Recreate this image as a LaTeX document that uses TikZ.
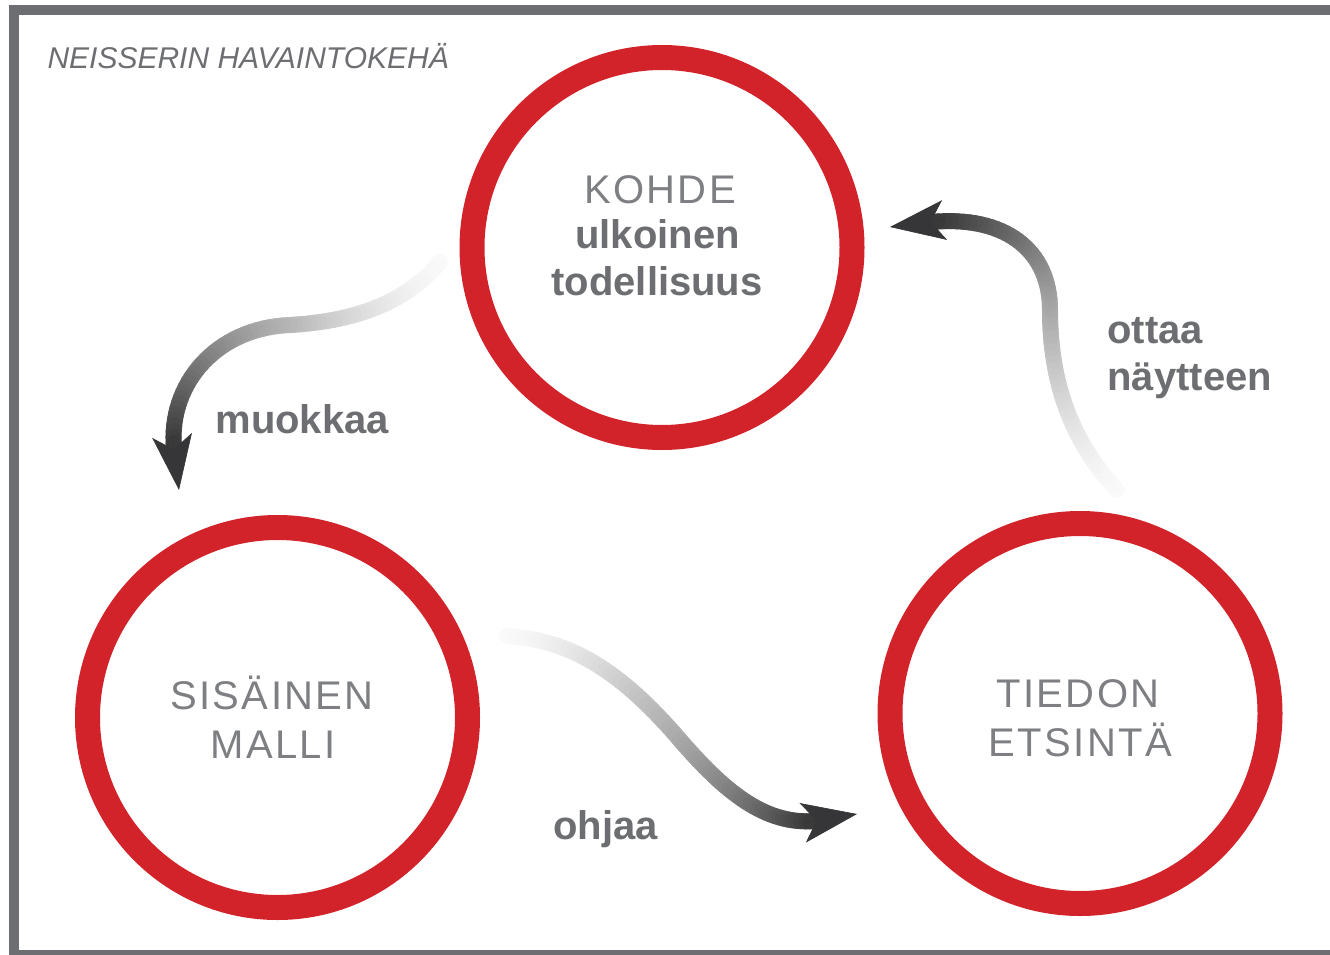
\documentclass[tikz,border=0pt]{standalone}
\usepackage{fontspec}
\setmainfont{Liberation Sans}
\newfontfamily\spacedfont[LetterSpace=6]{Liberation Sans}
\usetikzlibrary{calc,arrows.meta}
\definecolor{ringred}{HTML}{D2232A}
\definecolor{txtgray}{HTML}{6D6E71}
\definecolor{lighttxt}{HTML}{7E7F82}
\definecolor{headgray}{HTML}{363638}
% #1-#4 control points, #5/#6 start/end fraction of the whole arrow, #7 prefix
\newcommand\gradbez[7]{%
  \foreach \ii in {0,...,32}{%
    \pgfmathsetmacro\gt{\ii/32}%
    \coordinate (q0) at ($(#1)!\gt!(#2)$);
    \coordinate (q1) at ($(#2)!\gt!(#3)$);
    \coordinate (q2) at ($(#3)!\gt!(#4)$);
    \coordinate (r0) at ($(q0)!\gt!(q1)$);
    \coordinate (r1) at ($(q1)!\gt!(q2)$);
    \coordinate (#7\ii) at ($(r0)!\gt!(r1)$);
  }%
  \foreach \ii in {1,...,32}{%
    \pgfmathtruncatemacro\jj{\ii-1}%
    \pgfmathsetmacro\uu{#5+(#6-#5)*(\ii-0.5)/32}%
    \pgfmathsetmacro\sh{2+76*(\uu^1.5)}%
    \draw[shaft, draw=black!\sh] (#7\jj) -- (#7\ii);
  }%
}
\begin{document}
\begin{tikzpicture}[x=1pt,y=-1pt,
  ring/.style={circle, draw=ringred, line width=25pt, minimum size=380pt, inner sep=0pt},
  shaft/.style={line width=16pt, line cap=round},
  headarrow/.style={draw=headgray, fill=headgray, line width=0.6pt,
     -{Stealth[length=55pt,width=40pt,inset=14pt]}},
  lighttext/.style={anchor=base, text=lighttxt, font=\spacedfont\fontsize{40}{48}\selectfont},
  boldtext/.style={anchor=base, text=txtgray, font=\bfseries\fontsize{40}{48}\selectfont},
  labeltext/.style={anchor=base west, text=txtgray, font=\bfseries\fontsize{40}{48}\selectfont}]
\useasboundingbox (0,0) rectangle (1330,955);
\clip (0,0) rectangle (1330,955);
% frame
\draw[txtgray, line width=9.5pt] (14,10) rectangle (1360,955);
\node[anchor=base west, text=txtgray, font=\itshape\fontsize{30}{36}\selectfont] (title) at (44,69) {NEISSERIN HAVAINTOKEHÄ};
% rings
\node[ring] (kohde) at (662,247.5) {};
\node[ring] (malli) at (277.5,717.5) {};
\node[ring] (tiedon) at (1080,713.5) {};
% ring texts
\node[lighttext] (t1) at (660,203) {KOHDE};
\node[boldtext] (t2) at (657.5,248) {ulkoinen};
\node[boldtext] (t3) at (657,295) {todellisuus};
\node[lighttext] (t4) at (272,709) {SISÄINEN};
\node[lighttext] (t5) at (273,758) {MALLI};
\node[lighttext] (t6) at (1078,707) {TIEDON};
\node[lighttext] (t7) at (1080.5,756) {ETSINTÄ};
% labels
\node[labeltext] (l1) at (212,433) {muokkaa};
\node[labeltext] (l2) at (550,839) {ohjaa};
\node[labeltext] (l3) at (1104,343) {ottaa};
\node[labeltext] (l4) at (1104,390) {näytteen};
% arrow 1: kohde -> malli
\coordinate (a0) at (440,262);
\coordinate (a1) at (400,310);
\coordinate (a2) at (340,322);
\coordinate (a3) at (290,325);
\coordinate (a4) at (215,328);
\coordinate (a5) at (168,385);
\coordinate (a6) at (174,449);
\coordinate (abase) at (172,435);
\coordinate (atip) at (179,490);
\gradbez{a0}{a1}{a2}{a3}{0}{0.48}{pa}
\gradbez{a3}{a4}{a5}{a6}{0.48}{1}{pb}
\draw[headarrow] (abase) -- (atip);
% arrow 2: malli -> tiedon
\coordinate (b0) at (507,636);
\coordinate (b1) at (570,640);
\coordinate (b2) at (620,670);
\coordinate (b3) at (680,740);
\coordinate (b4) at (725,792);
\coordinate (b5) at (765,825);
\coordinate (b6) at (815,821);
\coordinate (bbase) at (801.5,823);
\coordinate (btip) at (857,814);
\gradbez{b0}{b1}{b2}{b3}{0}{0.55}{pc}
\gradbez{b3}{b4}{b5}{b6}{0.55}{1}{pd}
\draw[headarrow] (bbase) -- (btip);
% arrow 3: tiedon -> kohde
\coordinate (c0) at (1117,490);
\coordinate (c1) at (1070,440);
\coordinate (c2) at (1050,380);
\coordinate (c3) at (1050,310);
\coordinate (c4) at (1050,250);
\coordinate (c5) at (1005,215);
\coordinate (c6) at (931,222);
\coordinate (cbase) at (945,220);
\coordinate (ctip) at (890,227);
\gradbez{c0}{c1}{c2}{c3}{0}{0.55}{pe}
\gradbez{c3}{c4}{c5}{c6}{0.55}{1}{pf}
\draw[headarrow] (cbase) -- (ctip);
\end{tikzpicture}
\end{document}
